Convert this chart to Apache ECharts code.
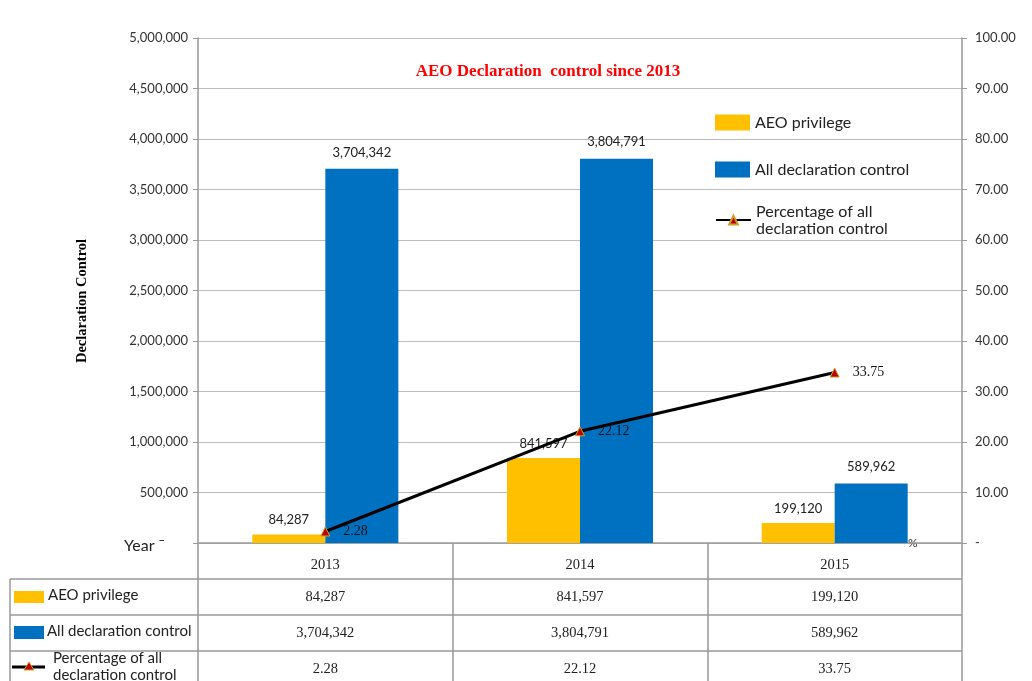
<!DOCTYPE html>
<html><head><meta charset="utf-8">
<script src="https://cdn.jsdelivr.net/npm/echarts@6/dist/echarts.min.js"></script>
<style>html,body{margin:0;padding:0;background:#fff}#c{width:1032px;height:681px}</style>
</head><body><div id="c"></div>
<script>
var years = ['2013', '2014', '2015'];
var aeoPrivilege = [84287, 841597, 199120];
var allDeclaration = [3704342, 3804791, 589962];
var percentage = [2.28, 22.12, 33.75];
var seriesNames = ['AEO privilege', 'All declaration control', 'Percentage of all\ndeclaration control'];
var titleText = 'AEO Declaration  control since 2013';
var yAxisName = 'Declaration Control';

var SANS = 'Lato, "Noto Sans", sans-serif';
var SERIF = '"Liberation Serif", "DejaVu Serif", serif';
var YEL = '#FFC000', BLUE = '#0070C0', GRID = '#bdbdbd';
function fmt(n){ return n.toLocaleString('en-US'); }

var chart = echarts.init(document.getElementById('c'), null, {renderer:'canvas'});
var legendText = {fontFamily: SANS, fontSize: 16, color: '#222', lineHeight: 17};
var option = {
  animation: false,
  backgroundColor: '#fff',
  grid: {left: 198, right: 70, top: 38, bottom: 138},
  legend: [{
    orient: 'vertical', left: 710, top: 109, itemWidth: 35, itemHeight: 16, itemGap: 30,
    icon: 'rect', textStyle: legendText, data: [seriesNames[0], seriesNames[1]]
  }, {
    orient: 'vertical', left: 710, top: 198, itemWidth: 35, itemHeight: 11,
    textStyle: legendText, data: [seriesNames[2]]
  }],
  xAxis: {
    type: 'category', data: years,
    axisLine: {lineStyle: {color: '#999', width: 1.5}},
    axisTick: {show: true, length: 140, lineStyle: {color: '#999', width: 1.5}},
    axisLabel: {margin: 15, fontFamily: SERIF, fontSize: 14.5, color: '#222'}
  },
  yAxis: [{
    type: 'value', min: 0, max: 5000000, interval: 500000,
    axisLine: {show: true, lineStyle: {color: '#999', width: 1.5}},
    axisTick: {show: true, length: 5, lineStyle: {color: '#999'}},
    splitLine: {lineStyle: {color: GRID, width: 1.2}},
    axisLabel: {fontFamily: SANS, fontSize: 13, color: '#333', margin: 10,
      formatter: function(v){ return v === 0 ? '' : fmt(v); }}
  }, {
    type: 'value', min: 0, max: 100, interval: 10, position: 'right',
    axisLine: {show: true, lineStyle: {color: '#999', width: 1.5}},
    axisTick: {show: true, length: 5, lineStyle: {color: '#999'}},
    splitLine: {show: false},
    axisLabel: {fontFamily: SANS, fontSize: 13, color: '#333', margin: 13,
      formatter: function(v){ return v === 0 ? '-' : v.toFixed(2); }}
  }],
  series: [{
    name: seriesNames[0], type: 'bar', data: aeoPrivilege, barWidth: 73, barGap: '0%',
    itemStyle: {color: YEL},
    label: {show: true, position: 'top', distance: 8, fontFamily: SANS, fontSize: 13, color: '#222',
      formatter: function(p){ return fmt(p.value); }}
  }, {
    name: seriesNames[1], type: 'bar', data: allDeclaration, barWidth: 73, barGap: '0%',
    itemStyle: {color: BLUE},
    label: {show: true, position: 'top', distance: 10, fontFamily: SANS, fontSize: 13, color: '#222',
      formatter: function(p){ return fmt(p.value); }}
  }, {
    name: seriesNames[2], type: 'line', yAxisIndex: 1, data: percentage,
    lineStyle: {color: '#000', width: 3},
    symbol: 'triangle', symbolSize: 9,
    itemStyle: {color: '#C00000', borderColor: '#C9A227', borderWidth: 1},
    label: {show: true, position: 'right', distance: 13, fontFamily: SERIF, fontSize: 14, color: '#111',
      formatter: function(p){ return p.value.toFixed(2); }},
    z: 5
  }]
};
chart.setOption(option);

// data table drawn under the axis, columns aligned with the category axis
var g = [];
var rowsY = [579, 615, 651];
var rowH = 36;
var leftX = 10, rightX = 962;
rowsY.forEach(function(y){
  g.push({type:'line', shape:{x1:leftX, y1:y, x2:rightX, y2:y}, style:{stroke:'#999', lineWidth:1.5}});
});
g.push({type:'line', shape:{x1:leftX, y1:579, x2:leftX, y2:681}, style:{stroke:'#999', lineWidth:1.5}});
var rowData = [aeoPrivilege, allDeclaration, percentage];
rowData.forEach(function(arr, r){
  arr.forEach(function(v, i){
    var x = chart.convertToPixel({xAxisIndex:0}, years[i]);
    g.push({type:'text', x:x, y:rowsY[r] + rowH/2, style:{
      text: r === 2 ? v.toFixed(2) : fmt(v), fontFamily: SERIF, fontSize: 14.5, fill:'#222',
      textAlign:'center', textVerticalAlign:'middle'}});
  });
});
// row headers with legend keys
g.push({type:'rect', shape:{x:14, y:591, width:30, height:12}, style:{fill:YEL}});
g.push({type:'text', x:48, y:595, style:{text:seriesNames[0], fontFamily:SANS, fontSize:15, fill:'#222', textVerticalAlign:'middle'}});
g.push({type:'rect', shape:{x:14, y:626, width:30, height:13}, style:{fill:BLUE}});
g.push({type:'text', x:47, y:631, style:{text:seriesNames[1], fontFamily:SANS, fontSize:15, fill:'#222', textVerticalAlign:'middle'}});
g.push({type:'line', shape:{x1:12, y1:667, x2:45, y2:667}, style:{stroke:'#000', lineWidth:3}});
g.push({type:'polygon', shape:{points:[[29,662],[34,670],[24,670]]}, style:{fill:'#C00000', stroke:'#C9A227', lineWidth:1}});
g.push({type:'text', x:53, y:667, style:{text:seriesNames[2], fontFamily:SANS, fontSize:15, fill:'#222', textVerticalAlign:'middle', lineHeight:17}});
// labels
g.push({type:'text', x:124, y:546, style:{text:'Year \u02C9', fontFamily:SANS, fontSize:16, fill:'#222', textVerticalAlign:'middle'}});
g.push({type:'text', x:908, y:543, style:{text:'%', fontFamily:SANS, fontSize:12, fill:'#333', textVerticalAlign:'middle'}});
g.push({type:'text', x:82, y:301, rotation: Math.PI/2, style:{text:yAxisName, fontFamily:SERIF, fontSize:14.5, fontWeight:'bold', fill:'#000', textAlign:'center', textVerticalAlign:'middle'}});
g.push({type:'text', x:548, y:72, style:{text:titleText, fontFamily:SERIF, fontSize:17, fontWeight:'bold', fill:'#FF0000', textAlign:'center', textVerticalAlign:'middle'}});
chart.setOption({graphic: {elements: g}});
</script></body></html>
